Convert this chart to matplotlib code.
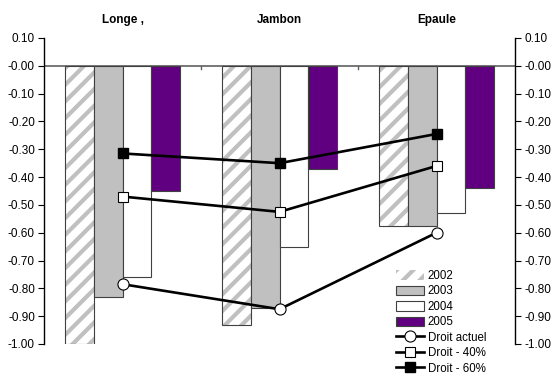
import numpy as np
import matplotlib.pyplot as plt
from matplotlib.patches import Patch
from matplotlib.lines import Line2D

plt.rcParams['font.family'] = ['Liberation Sans', 'DejaVu Sans']
plt.rcParams['hatch.linewidth'] = 3.0

categories = ['Longe ,', 'Jambon', 'Epaule']
years = ['2002', '2003', '2004', '2005']
bars_2002 = [-1.00, -0.93, -0.575]
bars_2003 = [-0.83, -0.87, -0.575]
bars_2004 = [-0.76, -0.65, -0.53]
bars_2005 = [-0.45, -0.37, -0.44]
droit_actuel = [-0.785, -0.875, -0.60]
droit_40 = [-0.47, -0.525, -0.36]
droit_60 = [-0.315, -0.35, -0.245]
yticks = np.round(np.arange(-1.0, 0.11, 0.1), 2)

fig = plt.figure(figsize=(5.51, 3.76), dpi=100)
ax = fig.add_axes([44 / 551, 1 - 344 / 376, 471 / 551, 306 / 376])

x = np.arange(len(categories))
w = 1 / 5.5
edge = '#404040'

# 2002: gray stripes on white, then outline drawn on top
ax.bar(x - 1.5 * w, bars_2002, w, color='white', edgecolor='#c0c0c0', hatch='//', linewidth=0, zorder=2)
ax.bar(x - 1.5 * w, bars_2002, w, fill=False, edgecolor=edge, linewidth=0.8, zorder=2)
ax.bar(x - 0.5 * w, bars_2003, w, color='#c0c0c0', edgecolor=edge, linewidth=0.8, zorder=2)
ax.bar(x + 0.5 * w, bars_2004, w, color='white', edgecolor=edge, linewidth=0.8, zorder=2)
ax.bar(x + 1.5 * w, bars_2005, w, color='#600080', edgecolor=edge, linewidth=0.8, zorder=2)

lw = 1.9
ax.plot(x, droit_actuel, color='black', lw=lw, marker='o', ms=8, mfc='white', mec='black', mew=0.8, zorder=3)
ax.plot(x, droit_40, color='black', lw=lw, marker='s', ms=7, mfc='white', mec='black', mew=0.8, zorder=3)
ax.plot(x, droit_60, color='black', lw=lw, marker='s', ms=7, mfc='black', mec='black', zorder=3)

ax.set_xlim(-0.5, 2.5)
ax.set_ylim(-1.0, 0.1)

# category axis crossing at zero
ax.axhline(0, color='#606060', lw=1.2, zorder=1)
for b in [0.5, 1.5]:
    ax.plot([b, b], [0, -0.012], color='#606060', lw=1, zorder=1)

for s in ['top', 'bottom']:
    ax.spines[s].set_visible(False)
ax.spines['left'].set_linewidth(1)
ax.spines['right'].set_linewidth(1)
ax.set_xticks([])
ax.set_yticks(yticks)
ax.set_yticklabels([f'{v:.2f}' for v in yticks])
ax.tick_params(axis='y', which='both', left=True, right=True, labelleft=True, labelright=True,
               direction='out', length=4, labelsize=8.5, pad=2.5)

for xi, name in zip(x, categories):
    ax.text(xi, 0.165, name, ha='center', va='center', fontsize=8.5, fontweight='bold')

handles = [
    Patch(facecolor='white', edgecolor='#c0c0c0', hatch='//', linewidth=0),
    Patch(facecolor='#c0c0c0', edgecolor=edge, linewidth=0.8),
    Patch(facecolor='white', edgecolor=edge, linewidth=0.8),
    Patch(facecolor='#600080', edgecolor=edge, linewidth=0.8),
    Line2D([], [], color='black', lw=lw, marker='o', ms=8, mfc='white', mec='black', mew=0.8),
    Line2D([], [], color='black', lw=lw, marker='s', ms=7, mfc='white', mec='black', mew=0.8),
    Line2D([], [], color='black', lw=lw, marker='s', ms=7, mfc='black', mec='black'),
]
labels = years + ['Droit actuel', 'Droit - 40%', 'Droit - 60%']
fig.legend(handles, labels, loc='upper left', bbox_to_anchor=(396 / 551, 1 - 270 / 376),
           frameon=False, fontsize=8.3, borderpad=0, borderaxespad=0, labelspacing=0.3,
           handlelength=2.4, handletextpad=0.35, handleheight=0.9)

fig.savefig('out.png', dpi=100)
